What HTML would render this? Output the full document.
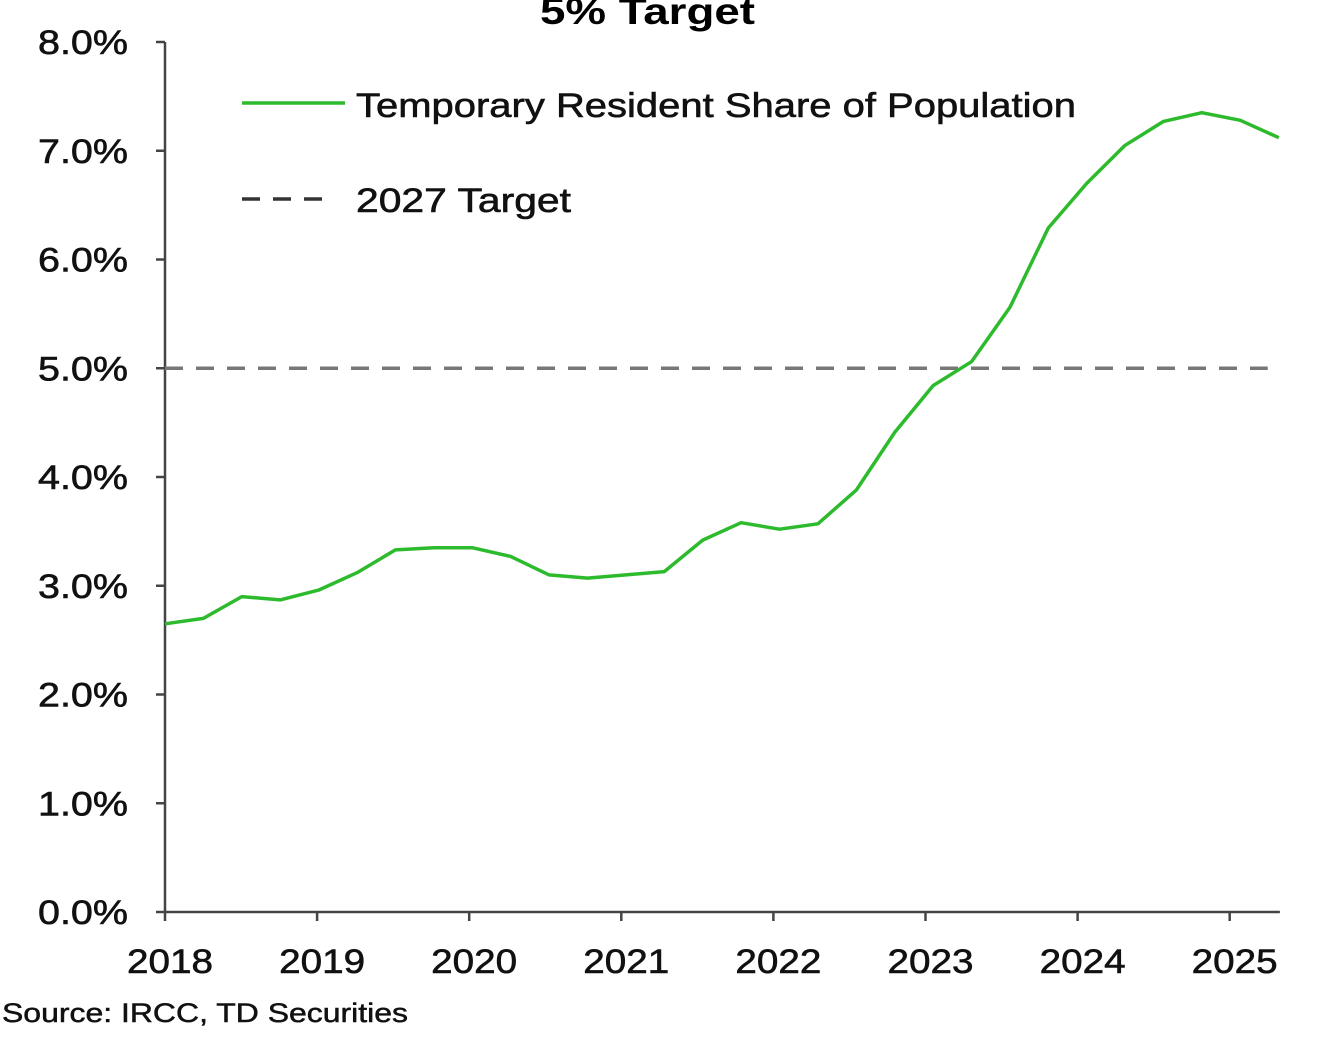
<!DOCTYPE html>
<html><head><meta charset="utf-8"><style>
body{margin:0;background:#fff;width:1342px;height:1032px;overflow:hidden;font-family:"Liberation Sans",Arial,sans-serif}
</style></head><body>
<svg id="chart" width="1342" height="1032" xmlns="http://www.w3.org/2000/svg" font-family="Liberation Sans, Arial, sans-serif">
<text x="540" y="24" font-size="37" font-weight="bold" textLength="215" lengthAdjust="spacingAndGlyphs" fill="#000">5% Target</text>
<g id="grid"></g>
<g id="series"></g>
<g>
<line x1="242" y1="103" x2="345" y2="103" stroke="#2dbb2d" stroke-width="3.5"/>
<text x="356" y="117" font-size="34" textLength="720" lengthAdjust="spacingAndGlyphs" fill="#111" stroke="#111" stroke-width="0.6">Temporary Resident Share of Population</text>
<line x1="242" y1="199" x2="335" y2="199" stroke="#333" stroke-width="3.5" stroke-dasharray="18,13"/>
<text x="356" y="212" font-size="34" textLength="215" lengthAdjust="spacingAndGlyphs" fill="#111" stroke="#111" stroke-width="0.6">2027 Target</text>
</g>
<text x="2" y="1022" font-size="27" textLength="406" lengthAdjust="spacingAndGlyphs" fill="#111" stroke="#111" stroke-width="0.5">Source: IRCC, TD Securities</text>
</svg>
<script>
const yTicks=[0,1,2,3,4,5,6,7,8];
const yearLabels=[2018,2019,2020,2021,2022,2023,2024,2025];
const residentShare=[2.65,2.70,2.90,2.87,2.96,3.12,3.33,3.35,3.35,3.27,3.10,3.07,3.10,3.13,3.42,3.58,3.52,3.57,3.88,4.41,4.84,5.06,5.56,6.29,6.70,7.05,7.27,7.35,7.28,7.12];
const targetValue=[5.0];
const startYear=2018, stepYears=0.2525, xEndYear=2025.33;
const X0=165,XPY=152.1,Y0=912,YPP=108.75;
const xs=t=>X0+(t-2018)*XPY, ys=v=>Y0-v*YPP;
const NS="http://www.w3.org/2000/svg";
const g=document.getElementById('grid'), s=document.getElementById('series');
function mk(tag,attrs,parent){const e=document.createElementNS(NS,tag);for(const k in attrs)e.setAttribute(k,attrs[k]);parent.appendChild(e);return e;}
let e=mk('line',{x1:xs(2018),y1:ys(0),x2:xs(xEndYear),y2:ys(0),stroke:'#444','stroke-width':2.5},g);


e=mk('line',{x1:xs(2018),y1:ys(0),x2:xs(2018),y2:ys(8),stroke:'#444','stroke-width':2.5},g);


yTicks.forEach(v=>{
 const t=mk('line',{x1:xs(2018)-9,y1:ys(v),x2:xs(2018),y2:ys(v),stroke:'#444','stroke-width':2.5},g);
 
 
 const l=mk('text',{x:38,y:ys(v)+12,'font-size':34,textLength:90,lengthAdjust:'spacingAndGlyphs',fill:'#111',stroke:'#111','stroke-width':0.6},g);
 l.textContent=v.toFixed(1)+'%';
 
 
});
yearLabels.forEach(y=>{
 const t=mk('line',{x1:xs(y),y1:ys(0),x2:xs(y),y2:ys(0)+9,stroke:'#444','stroke-width':2.5},g);
 
 
 const l=mk('text',{x:xs(y)-38,y:973,'font-size':34,textLength:86,lengthAdjust:'spacingAndGlyphs',fill:'#111',stroke:'#111','stroke-width':0.6},g);
 l.textContent=y;
 
 
});
e=mk('line',{x1:xs(2018),y1:ys(targetValue[0]),x2:xs(2025.25),y2:ys(targetValue[0]),stroke:'#777','stroke-width':3.5,'stroke-dasharray':'18,13'},s);


const pts=residentShare.map((v,i)=>xs(startYear+i*stepYears).toFixed(1)+','+ys(v).toFixed(1)).join(' ');
e=mk('polyline',{points:pts,fill:'none',stroke:'#2dbb2d','stroke-width':3.5,'stroke-linejoin':'round'},s);


</script>
</body></html>
